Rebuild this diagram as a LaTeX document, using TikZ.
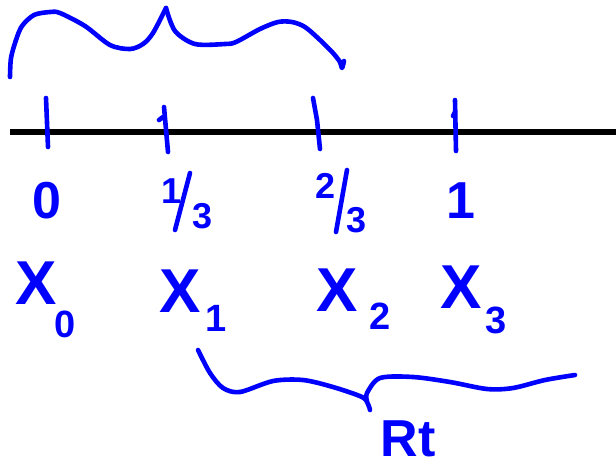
\documentclass[tikz,border=0pt]{standalone}
\usepackage{fontspec}
\setmainfont{Liberation Sans}
\begin{document}
\begin{tikzpicture}[x=1pt,y=-1pt,
  ink/.style={draw=blue,line width=4.6pt,line cap=round,line join=round},
  lbl/.style={text=blue,inner sep=0pt,font=\bfseries\fontsize{52}{52}\selectfont},
  sub/.style={text=blue,inner sep=0pt,font=\bfseries\fontsize{38}{38}\selectfont},
  frac/.style={text=blue,inner sep=0pt,font=\bfseries\fontsize{36}{36}\selectfont}]
\useasboundingbox (0,0) rectangle (616,467);
% axis
\coordinate (L) at (10,132);
\coordinate (R) at (616,132);
\draw[line width=6pt] (L) -- (R);
% ticks
\draw[ink] (159,120) -- (163,117) (164,107) -- (168,152);
\draw[ink] (46,98) -- (48,147);
\draw[ink] (313,98) -- (317,120) -- (320,149);
\draw[ink] (453,116) -- (455,112) (455,100) -- (456,151);
% top brace
\draw[ink] plot[smooth,tension=0.5] coordinates {(10,77) (11,58) (16,40) (22,26) (34,15) (50,12) (60,13) (85,26) (110,45) (130,49) (143,44) (153,33) (166,8)};
\draw[ink] plot[smooth,tension=0.5] coordinates {(166,8) (175,31) (195,44) (225,44) (236,42) (260,29) (278,22) (292,22) (305,27) (320,40) (333,53) (340,62) (342,68) (344,61)};
% bottom brace
\draw[ink] plot[smooth,tension=0.5] coordinates {(198,350) (210,373) (223,388) (240,392) (273,381) (303,380) (333,387) (362,397) (368,404) (370,410)};
\draw[ink] plot[smooth,tension=0.5] coordinates {(367,401) (367,393) (380,378) (413,377) (450,382) (487,389) (513,388) (545,380) (575,375)};
% value labels
\node[lbl] (v0) at (47,201) {0};
\node[frac] (n1) at (172,191) {1};
\coordinate (a1) at (190,173);
\coordinate (b1) at (175,230);
\draw[ink] (a1) -- (b1);
\node[frac] (d1) at (203,216) {3};
\node[frac] (n2) at (326,186) {2};
\coordinate (a2) at (347,170);
\coordinate (b2) at (336,232);
\draw[ink] (a2) -- (b2);
\node[frac] (d2) at (357,220) {3};
\node[lbl] (v3) at (461,201) {1};
% variable labels
\node[lbl,font=\bfseries\fontsize{62}{62}\selectfont] (x0) at (36,283) {X};
\node[sub] (s0) at (65,324) {0};
\node[lbl,font=\bfseries\fontsize{62}{62}\selectfont] (x1) at (180,291) {X};
\node[sub] (s1) at (216,318) {1};
\node[lbl,font=\bfseries\fontsize{62}{62}\selectfont] (x2) at (337,290) {X};
\node[sub] (s2) at (380,316) {2};
\node[lbl,font=\bfseries\fontsize{62}{62}\selectfont] (x3) at (461,287) {X};
\node[sub] (s3) at (496,320) {3};
% Rt
\node[lbl,font=\bfseries\fontsize{52}{52}\selectfont,anchor=base] (rt) at (408,456) {Rt};
\end{tikzpicture}
\end{document}
